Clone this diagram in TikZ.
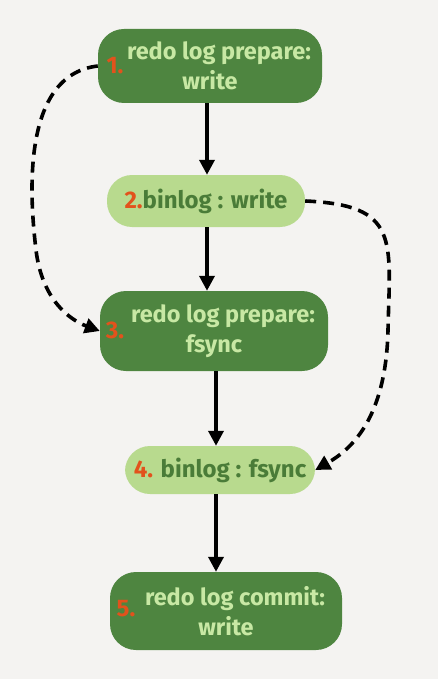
\documentclass[tikz,border=0pt]{standalone}
\usepackage{fontspec}
\setmainfont{Fira Sans}
\usetikzlibrary{arrows.meta}
\definecolor{bg}{HTML}{F4F3F1}
\definecolor{dkg}{HTML}{4E8540}
\definecolor{ltg}{HTML}{B8DA8E}
\definecolor{dtxt}{HTML}{C8E8A4}
\definecolor{ltxt}{HTML}{4A7C38}
\definecolor{num}{HTML}{E2521C}
\tikzset{
  darkbox/.style={fill=dkg, rounded corners=26pt, minimum width=#1, minimum height=74pt, align=center, text=dtxt, font=\fontsize{23.5}{30}\selectfont\bfseries, inner sep=0pt},
  lightbox/.style={fill=ltg, rounded corners=25pt, minimum width=#1, minimum height=52pt, text=ltxt, font=\fontsize{24}{28}\selectfont\bfseries, inner sep=0pt},
  arr/.style={-{Triangle[length=15pt,width=15pt]}, line width=3.6pt, black},
  darr/.style={-{Triangle[length=15pt,width=15pt]}, line width=3.6pt, black, dash pattern=on 11pt off 7pt},
  numlab/.style={text=num, font=\fontsize{24}{26}\selectfont\bfseries}
}
\begin{document}
\begin{tikzpicture}[x=1pt,y=-1pt]
\fill[bg] (0,0) rectangle (438,679);
\useasboundingbox (0,0) rectangle (438,679);
\node[darkbox=224pt] (n1) at (210,66) {\hspace*{18pt}redo log prepare:\\write};
\node[numlab] at (115,66) {1.};
\node[lightbox=198pt] (n2) at (206,201) {\textcolor{num}{2.}binlog : write};
\node[darkbox=228pt, minimum height=80pt] (n3) at (214,331) {\hspace*{18pt}redo log prepare:\\fsync};
\node[numlab] at (115,330) {3.};
\node[lightbox=190pt, minimum height=48pt] (n4) at (220,470) {\textcolor{num}{4.} binlog : fsync};
\node[darkbox=232pt, minimum height=78pt] (n5) at (226,611) {\hspace*{18pt}redo log commit:\\write};
\node[numlab] at (126,609) {5.};
\draw[arr] (n1.south -| 207,0) -- (n2.north -| 207,0);
\draw[arr] (n2.south -| 207,0) -- (n3.north -| 207,0);
\draw[arr] (n3.south -| 216,0) -- (n4.north -| 216,0);
\draw[arr] (n4.south -| 216,0) -- (n5.north -| 216,0);
\draw[darr] (n1.west) .. controls (20,75) and (30,200) .. (36,250) .. controls (42,300) and (70,320) .. (n3.west);
\draw[darr] (n2.east) .. controls (400,205) and (390,240) .. (388,330) .. controls (386,420) and (350,450) .. (n4.east);
\end{tikzpicture}
\end{document}
